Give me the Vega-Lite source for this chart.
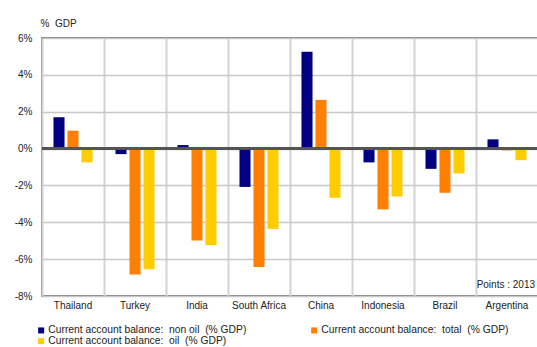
{
  "$schema": "https://vega.github.io/schema/vega-lite/v6.json",
  "width": 496,
  "height": 258,
  "autosize": {"type": "none"},
  "padding": {"left": 42, "top": 38, "right": 0, "bottom": 51},
  "background": "white",
  "config": {
    "font": "Liberation Sans",
    "view": {"stroke": "#555555", "strokeWidth": 1.5}
  },
  "data": {
    "values": [
      {"country": "Thailand", "series": "non oil", "value": 1.7},
      {"country": "Thailand", "series": "total", "value": 0.97},
      {"country": "Thailand", "series": "oil", "value": -0.75},
      {"country": "Turkey", "series": "non oil", "value": -0.3},
      {"country": "Turkey", "series": "total", "value": -6.84},
      {"country": "Turkey", "series": "oil", "value": -6.55},
      {"country": "India", "series": "non oil", "value": 0.19},
      {"country": "India", "series": "total", "value": -4.99},
      {"country": "India", "series": "oil", "value": -5.23},
      {"country": "South Africa", "series": "non oil", "value": -2.08},
      {"country": "South Africa", "series": "total", "value": -6.42},
      {"country": "South Africa", "series": "oil", "value": -4.36},
      {"country": "China", "series": "non oil", "value": 5.26},
      {"country": "China", "series": "total", "value": 2.64},
      {"country": "China", "series": "oil", "value": -2.67},
      {"country": "Indonesia", "series": "non oil", "value": -0.75},
      {"country": "Indonesia", "series": "total", "value": -3.3},
      {"country": "Indonesia", "series": "oil", "value": -2.6},
      {"country": "Brazil", "series": "non oil", "value": -1.1},
      {"country": "Brazil", "series": "total", "value": -2.4},
      {"country": "Brazil", "series": "oil", "value": -1.35},
      {"country": "Argentina", "series": "non oil", "value": 0.5},
      {"country": "Argentina", "series": "total", "value": -0.1},
      {"country": "Argentina", "series": "oil", "value": -0.63}
    ]
  },
  "encoding": {
    "y": {
      "field": "value",
      "type": "quantitative",
      "scale": {"domain": [-8, 6], "nice": false, "zero": false},
      "axis": {
        "values": [-8, -6, -4, -2, 0, 2, 4, 6],
        "labelExpr": "datum.value + '%'",
        "grid": true,
        "gridColor": "#c8c8c8",
        "gridWidth": 1.5,
        "domain": false,
        "ticks": false,
        "labelPadding": 10,
        "labelFontSize": 10,
        "labelColor": "#222222",
        "title": "%\u00a0 GDP",
        "titleAngle": 0,
        "titleAlign": "left",
        "titleBaseline": "bottom",
        "titleX": -2,
        "titleY": -10,
        "titleFontSize": 10,
        "titleFontWeight": "normal",
        "titleColor": "#222222"
      }
    }
  },
  "layer": [
    {
      "mark": {"type": "bar"},
      "encoding": {
        "x": {
          "field": "country",
          "type": "nominal",
          "sort": ["Thailand", "Turkey", "India", "South Africa", "China", "Indonesia", "Brazil", "Argentina"],
          "scale": {"paddingInner": 0, "paddingOuter": 0},
          "axis": {
            "orient": "bottom",
            "title": null,
            "labelAngle": 0,
            "labelPadding": 4,
            "labelFontSize": 10,
            "labelColor": "#222222",
            "domain": false,
            "ticks": false,
            "grid": true,
            "bandPosition": 0,
            "gridColor": "#d3d3d3",
            "gridWidth": 2
          }
        },
        "xOffset": {
          "field": "series",
          "type": "nominal",
          "sort": ["non oil", "total", "oil"],
          "scale": {"paddingInner": 0.21, "paddingOuter": 0.82}
        },
        "color": {
          "field": "series",
          "type": "nominal",
          "scale": {
            "domain": ["non oil", "total", "oil"],
            "range": ["#000080", "#ff7f00", "#ffcc00"]
          },
          "legend": {
            "title": null,
            "orient": "none",
            "legendX": -6,
            "legendY": 287,
            "direction": "horizontal",
            "columns": 2,
            "symbolType": "square",
            "symbolSize": 36,
            "symbolStrokeWidth": 0,
            "labelFontSize": 10.3,
            "labelColor": "#222222",
            "labelOffset": 2,
            "labelLimit": 0,
            "rowPadding": 0,
            "columnPadding": 62,
            "labelExpr": "'Current account balance:\u00a0 ' + datum.label + '\u00a0 (% GDP)'"
          }
        }
      }
    },
    {
      "mark": {"type": "rule", "color": "#555555", "strokeWidth": 1.5},
      "encoding": {"y": {"datum": 0}}
    },
    {
      "data": {"values": [{"country": "Argentina", "note": "Points : 2013", "pos": -7.4}]},
      "mark": {"type": "text", "align": "right", "baseline": "middle", "dx": 28, "fontSize": 10, "color": "#222222"},
      "encoding": {
        "x": {"field": "country", "type": "nominal", "sort": ["Thailand", "Turkey", "India", "South Africa", "China", "Indonesia", "Brazil", "Argentina"]},
        "y": {"field": "pos", "type": "quantitative"},
        "text": {"field": "note"}
      }
    }
  ]
}
